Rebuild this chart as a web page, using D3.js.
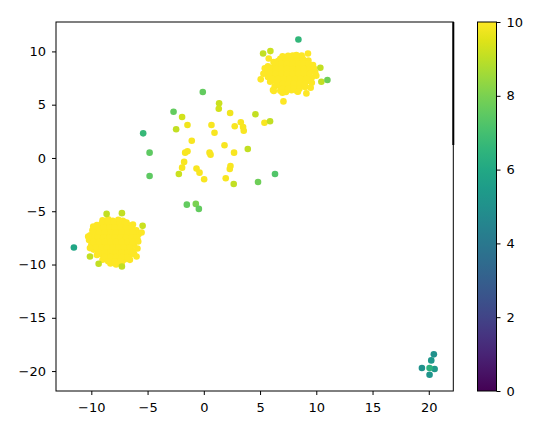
<!DOCTYPE html>
<html>
<head>
<meta charset="utf-8">
<script src="https://cdn.jsdelivr.net/npm/d3@7"></script>
<style>
  body { margin: 0; background: #fff; }
  text { font-family: "DejaVu Sans", sans-serif; font-size: 13px; fill: #000; }
</style>
</head>
<body>
<div id="chart"></div>
<script>
const xTicks = [-10, -5, 0, 5, 10, 15, 20];
const yTicks = [-20, -15, -10, -5, 0, 5, 10];
const colorTicks = [0, 2, 4, 6, 8, 10];

// [x, y, value]
const upperCluster = [
  [7.0, 9.55, 10], [7.5, 9.4, 10], [7.9, 9.6, 10], [8.4, 9.45, 10], [8.7, 9.6, 10],
  [6.2, 9.0, 10], [6.6, 9.1, 10], [7.1, 9.0, 10], [7.6, 9.1, 10], [8.1, 9.0, 10], [8.6, 9.1, 10], [9.0, 8.95, 10], [9.3, 9.15, 10],
  [5.7, 8.6, 10], [6.2, 8.5, 10], [6.6, 8.65, 10], [7.1, 8.55, 10], [7.6, 8.6, 10], [8.1, 8.5, 10], [8.6, 8.65, 10], [9.1, 8.55, 10], [9.5, 8.65, 10],
  [5.5, 8.1, 10], [5.9, 8.2, 10], [6.4, 8.1, 10], [6.9, 8.15, 10], [7.4, 8.05, 10], [7.9, 8.15, 10], [8.4, 8.1, 10], [8.9, 8.0, 10], [9.4, 8.15, 10], [9.9, 8.05, 10],
  [5.7, 7.6, 10], [6.1, 7.7, 10], [6.6, 7.6, 10], [7.1, 7.65, 10], [7.6, 7.6, 10], [8.1, 7.7, 10], [8.6, 7.6, 10], [9.1, 7.65, 10], [9.6, 7.55, 10],
  [5.9, 7.15, 10], [6.3, 7.25, 10], [6.8, 7.15, 10], [7.3, 7.2, 10], [7.8, 7.1, 10], [8.3, 7.2, 10], [8.8, 7.15, 10], [9.3, 7.25, 10], [9.6, 7.05, 10],
  [6.3, 6.7, 10], [6.7, 6.8, 10], [7.1, 6.65, 10], [7.6, 6.75, 10], [8.1, 6.7, 10], [8.6, 6.8, 10], [9.0, 6.65, 10],
  [6.8, 6.3, 10], [7.3, 6.2, 10], [7.8, 6.35, 10], [8.3, 6.25, 10],
  [6.8, 9.3, 10], [7.3, 9.3, 10], [7.8, 9.3, 10], [8.3, 9.3, 10], [8.8, 9.3, 10],
  [6.4, 8.85, 10], [6.9, 8.85, 10], [7.4, 8.85, 10], [7.9, 8.85, 10], [8.4, 8.85, 10], [8.9, 8.85, 10], [9.3, 8.85, 10],
  [5.9, 8.35, 10], [6.4, 8.35, 10], [6.9, 8.35, 10], [7.4, 8.35, 10], [7.9, 8.35, 10], [8.4, 8.35, 10], [8.9, 8.35, 10], [9.4, 8.35, 10],
  [5.9, 7.9, 10], [6.4, 7.9, 10], [6.9, 7.9, 10], [7.4, 7.9, 10], [7.9, 7.9, 10], [8.4, 7.9, 10], [8.9, 7.9, 10], [9.4, 7.9, 10],
  [6.1, 7.4, 10], [6.6, 7.4, 10], [7.1, 7.4, 10], [7.6, 7.4, 10], [8.1, 7.4, 10], [8.6, 7.4, 10], [9.1, 7.4, 10],
  [6.5, 6.95, 10], [7.0, 6.95, 10], [7.5, 6.95, 10], [8.0, 6.95, 10], [8.5, 6.95, 10], [9.0, 6.95, 10],
  [7.0, 6.5, 10], [7.5, 6.5, 10], [8.0, 6.5, 10], [8.5, 6.5, 10],
  [5.06, 7.38, 10], [5.77, 9.34, 10], [9.26, 9.81, 10], [7.49, 9.59, 10], [8.23, 9.65, 10], [9.71, 8.72, 10],
  [10.0, 7.71, 10], [7.08, 5.31, 10], [9.12, 6.06, 10], [8.37, 6.21, 10], [6.15, 6.37, 10], [5.42, 8.41, 10],
  [6.22, 6.28, 10], [6.99, 6.12, 10], [9.8, 8.4, 10], [5.3, 7.9, 10], [9.5, 6.6, 10],
  [5.27, 9.81, 9.1], [5.92, 10.03, 9.2], [10.36, 8.46, 9.1], [10.45, 7.15, 9.1], [10.99, 7.31, 7.8], [8.41, 11.12, 6.6]
];

const lowerCluster = [
  [-9.0, -5.85, 10], [-8.5, -5.75, 10], [-8.1, -5.9, 10], [-7.6, -5.8, 10], [-7.2, -5.9, 10],
  [-9.5, -6.3, 10], [-9.1, -6.2, 10], [-8.6, -6.35, 10], [-8.1, -6.25, 10], [-7.6, -6.3, 10], [-7.1, -6.2, 10], [-6.6, -6.35, 10], [-6.3, -6.25, 10],
  [-9.9, -6.8, 10], [-9.5, -6.7, 10], [-9.0, -6.8, 10], [-8.5, -6.75, 10], [-8.0, -6.85, 10], [-7.5, -6.75, 10], [-7.0, -6.8, 10], [-6.5, -6.7, 10], [-6.0, -6.8, 10],
  [-10.1, -7.25, 10], [-9.6, -7.2, 10], [-9.1, -7.3, 10], [-8.6, -7.2, 10], [-8.1, -7.25, 10], [-7.6, -7.2, 10], [-7.1, -7.3, 10], [-6.6, -7.2, 10], [-6.1, -7.25, 10], [-5.8, -7.15, 10],
  [-10.2, -7.7, 10], [-9.8, -7.6, 10], [-9.3, -7.75, 10], [-8.8, -7.65, 10], [-8.3, -7.7, 10], [-7.8, -7.6, 10], [-7.3, -7.75, 10], [-6.8, -7.65, 10], [-6.3, -7.7, 10], [-5.9, -7.6, 10],
  [-10.0, -8.15, 10], [-9.6, -8.25, 10], [-9.1, -8.1, 10], [-8.6, -8.2, 10], [-8.1, -8.15, 10], [-7.6, -8.25, 10], [-7.1, -8.1, 10], [-6.6, -8.2, 10], [-6.2, -8.15, 10],
  [-9.8, -8.6, 10], [-9.4, -8.7, 10], [-8.9, -8.6, 10], [-8.4, -8.65, 10], [-7.9, -8.55, 10], [-7.4, -8.7, 10], [-6.9, -8.6, 10], [-6.4, -8.65, 10],
  [-9.5, -9.1, 10], [-9.1, -9.0, 10], [-8.6, -9.15, 10], [-8.1, -9.05, 10], [-7.6, -9.1, 10], [-7.1, -9.0, 10], [-6.6, -9.15, 10], [-6.2, -9.0, 10],
  [-9.0, -9.55, 10], [-8.6, -9.45, 10], [-8.1, -9.6, 10], [-7.6, -9.5, 10], [-7.1, -9.55, 10], [-6.7, -9.45, 10],
  [-8.3, -9.9, 10], [-7.8, -10.0, 10], [-7.3, -9.85, 10],
  [-9.0, -6.05, 10], [-8.5, -6.05, 10], [-8.0, -6.05, 10], [-7.5, -6.05, 10], [-7.0, -6.05, 10],
  [-9.4, -6.5, 10], [-8.9, -6.5, 10], [-8.4, -6.5, 10], [-7.9, -6.5, 10], [-7.4, -6.5, 10], [-6.9, -6.5, 10], [-6.4, -6.5, 10],
  [-9.8, -7.0, 10], [-9.3, -7.0, 10], [-8.8, -7.0, 10], [-8.3, -7.0, 10], [-7.8, -7.0, 10], [-7.3, -7.0, 10], [-6.8, -7.0, 10], [-6.3, -7.0, 10],
  [-9.9, -7.45, 10], [-9.4, -7.45, 10], [-8.9, -7.45, 10], [-8.4, -7.45, 10], [-7.9, -7.45, 10], [-7.4, -7.45, 10], [-6.9, -7.45, 10], [-6.4, -7.45, 10], [-6.0, -7.45, 10],
  [-9.8, -7.9, 10], [-9.3, -7.9, 10], [-8.8, -7.9, 10], [-8.3, -7.9, 10], [-7.8, -7.9, 10], [-7.3, -7.9, 10], [-6.8, -7.9, 10], [-6.3, -7.9, 10],
  [-9.6, -8.4, 10], [-9.1, -8.4, 10], [-8.6, -8.4, 10], [-8.1, -8.4, 10], [-7.6, -8.4, 10], [-7.1, -8.4, 10], [-6.6, -8.4, 10],
  [-9.3, -8.85, 10], [-8.8, -8.85, 10], [-8.3, -8.85, 10], [-7.8, -8.85, 10], [-7.3, -8.85, 10], [-6.8, -8.85, 10], [-6.3, -8.85, 10],
  [-8.8, -9.3, 10], [-8.3, -9.3, 10], [-7.8, -9.3, 10], [-7.3, -9.3, 10], [-6.8, -9.3, 10],
  [-8.5, -9.7, 10], [-7.5, -9.7, 10],
  [-9.83, -6.44, 10], [-6.87, -6.06, 10], [-5.53, -7.0, 10], [-5.83, -7.84, 10], [-5.98, -9.25, 10],
  [-6.57, -9.56, 10], [-7.9, -9.72, 10], [-10.28, -7.38, 10], [-10.12, -8.46, 10], [-5.9, -8.5, 10],
  [-8.64, -5.25, 9.1], [-7.28, -5.18, 9.1], [-5.44, -6.37, 9.2], [-10.12, -9.25, 9.1], [-9.35, -9.93, 9.1],
  [-7.28, -10.19, 9.1], [-11.55, -8.4, 5.9]
];

const middlePoints = [
  [-0.09, 6.19, 7.6], [1.36, 5.13, 9.2], [1.33, 4.62, 9.3], [-2.69, 4.34, 7.6], [-1.93, 3.84, 9.3],
  [2.34, 4.22, 9.8], [4.59, 4.1, 9.1], [-1.45, 3.09, 9.8], [0.68, 3.09, 9.9], [-2.46, 2.69, 9.1],
  [3.29, 3.35, 9.9], [2.75, 2.97, 9.9], [3.49, 2.91, 9.9], [3.55, 2.56, 9.9], [5.39, 3.31, 9.9],
  [5.89, 3.44, 9.1], [0.95, 2.37, 9.9], [-5.39, 2.31, 6.7], [-1.07, 1.62, 9.9], [1.84, 1.19, 9.9],
  [-4.82, 0.5, 7.5], [-1.66, 0.5, 9.9], [-1.45, 0.63, 9.9], [0.51, 0.5, 9.9], [0.6, 0.31, 9.9],
  [2.69, 0.5, 9.9], [3.91, 0.84, 9.1], [-1.75, -0.37, 9.9], [-1.93, -0.91, 9.9], [-2.22, -1.5, 9.2],
  [-4.82, -1.69, 7.5], [-0.65, -1.0, 9.9], [-0.38, -1.38, 9.9], [0.03, -2.0, 9.9], [2.37, -0.75, 9.9],
  [2.31, -1.03, 9.9], [1.95, -1.9, 9.9], [2.66, -2.44, 9.1], [4.82, -2.25, 7.8], [6.33, -1.5, 7.3],
  [-1.51, -4.38, 7.6], [-0.71, -4.31, 8.0], [-0.44, -4.78, 7.6]
];

const farCluster = [
  [20.45, -18.43, 5.0], [20.22, -19.0, 5.3], [19.39, -19.71, 5.1],
  [20.52, -19.8, 5.4], [20.07, -20.34, 5.2], [20.07, -19.71, 6.4]
];

const width = 540, height = 430;
const plot = { left: 56, right: 453.3, top: 22, bottom: 391 };
const bar = { left: 477.5, right: 496.5 };

const svg = d3.select("#chart").append("svg").attr("width", width).attr("height", height);

const x = d3.scaleLinear().domain([-13.14, 22.18]).range([plot.left, plot.right]);
const y = d3.scaleLinear().domain([-21.87, 12.76]).range([plot.bottom, plot.top]);
const color = d3.scaleSequential(d3.interpolateViridis).domain([0, 10]);

const fmt = d => (d < 0 ? "\u2212" + Math.abs(d) : String(d));

// points, drawn in data order like matplotlib
const allPoints = upperCluster.concat(lowerCluster, middlePoints, farCluster);
svg.append("g")
  .selectAll("circle")
  .data(allPoints)
  .enter()
  .append("circle")
  .attr("cx", d => x(d[0]))
  .attr("cy", d => y(d[1]))
  .attr("r", 3.3)
  .attr("fill", d => color(d[2]));

// axes
const xAxis = svg.append("g")
  .attr("transform", `translate(0,${plot.bottom})`)
  .call(d3.axisBottom(x).tickValues(xTicks).tickSize(4).tickPadding(8).tickFormat(fmt));
const yAxis = svg.append("g")
  .attr("transform", `translate(${plot.left},0)`)
  .call(d3.axisLeft(y).tickValues(yTicks).tickSize(4).tickPadding(6).tickFormat(fmt));
[xAxis, yAxis].forEach(g => {
  g.select(".domain").remove();
  g.selectAll("text").style("font-size", "13px").style("font-family", "DejaVu Sans, sans-serif");
  g.selectAll("line").attr("stroke", "#000");
});

svg.append("rect")
  .attr("x", plot.left).attr("y", plot.top)
  .attr("width", plot.right - plot.left).attr("height", plot.bottom - plot.top)
  .attr("fill", "none").attr("stroke", "#000").attr("stroke-width", 1);
// heavier segment at the top of the right spine
svg.append("line")
  .attr("x1", plot.right).attr("x2", plot.right)
  .attr("y1", plot.top).attr("y2", 145)
  .attr("stroke", "#000").attr("stroke-width", 2);

// colorbar
const cScale = d3.scaleLinear().domain([0, 10]).range([plot.bottom, plot.top]);
const grad = svg.append("defs").append("linearGradient")
  .attr("id", "viridis").attr("x1", 0).attr("y1", 1).attr("x2", 0).attr("y2", 0);
d3.range(0, 1.0001, 0.05).forEach(t => {
  grad.append("stop").attr("offset", t).attr("stop-color", d3.interpolateViridis(t));
});
svg.append("rect")
  .attr("x", bar.left).attr("y", plot.top)
  .attr("width", bar.right - bar.left).attr("height", plot.bottom - plot.top)
  .attr("fill", "url(#viridis)").attr("stroke", "#000").attr("stroke-width", 1);

const cAxis = svg.append("g")
  .attr("transform", `translate(${bar.right},0)`)
  .call(d3.axisRight(cScale).tickValues(colorTicks).tickSize(4).tickPadding(6).tickFormat(fmt));
cAxis.select(".domain").remove();
cAxis.selectAll("text").style("font-size", "13px").style("font-family", "DejaVu Sans, sans-serif");
cAxis.selectAll("line").attr("stroke", "#000");
</script>
</body>
</html>
